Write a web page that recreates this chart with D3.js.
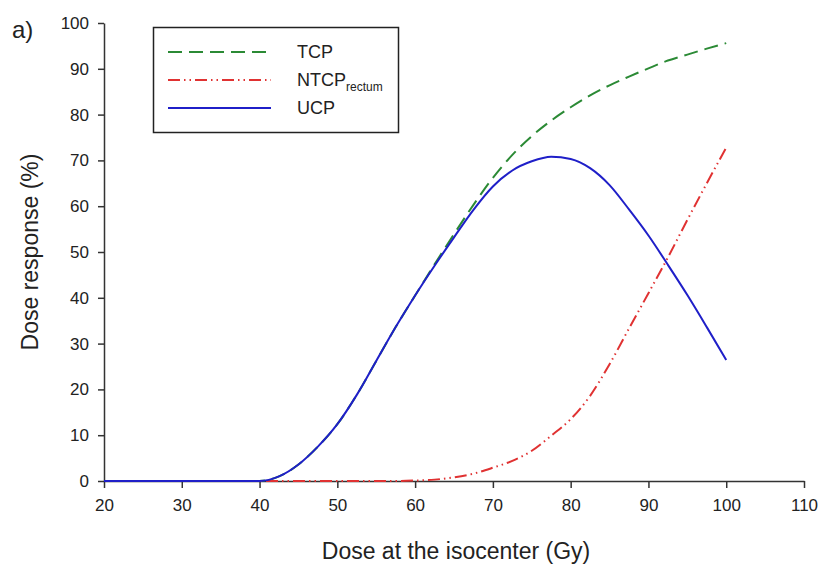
<!DOCTYPE html>
<html>
<head>
<meta charset="utf-8">
<script src="https://cdn.jsdelivr.net/npm/d3@7"></script>
<style>
  body { margin: 0; background: #fff; }
  text { font-family: "Liberation Sans", Arial, sans-serif; fill: #222; }
</style>
</head>
<body>
<svg width="822" height="564"></svg>
<script>
// dose (Gy) and responses (%)
const dose = [20, 25, 30, 35, 40, 42.5, 45, 47.5, 50, 52.5, 55, 57.5, 60, 62.5, 65, 67.5,
              70, 72.5, 75, 77.5, 80, 82.5, 85, 87.5, 90, 92.5, 95, 97.5, 100]
const tcp = [0, 0, 0, 0, 0, 1.0, 3.6, 7.5, 12.4, 18.8, 26.2, 33.6, 40.5, 47.3, 53.9, 60.3,
             66.2, 71.2, 75.3, 78.7, 81.6, 84.2, 86.4, 88.3, 90.1, 91.8, 93.1, 94.4, 95.6]
const ntcp = [0, 0, 0, 0, 0, 0, 0, 0, 0, 0, 0, 0, 0.1, 0.3, 0.8, 1.6,
              2.9, 4.4, 6.6, 9.9, 13.5, 18.6, 25.5, 33.3, 41.0, 48.8, 57.0, 65.0, 72.8]
const ucp = [0, 0, 0, 0, 0, 1.0, 3.6, 7.5, 12.4, 18.8, 26.2, 33.6, 40.5, 47.0, 53.2, 59.2,
             64.3, 67.8, 69.8, 70.8, 70.3, 68.3, 64.6, 59.3, 53.6, 47.2, 40.6, 33.6, 26.4]

const xTicks = [20, 30, 40, 50, 60, 70, 80, 90, 100, 110]
const yTicks = [0, 10, 20, 30, 40, 50, 60, 70, 80, 90, 100]

const svg = d3.select('svg')

const x = d3.scaleLinear().domain([20, 110]).range([104, 804])
const y = d3.scaleLinear().domain([0, 100]).range([481, 23])

// axes
const xAxisGroup = svg.append('g')
  .attr('transform', 'translate(0,481)')
  .call(d3.axisBottom(x).tickValues(xTicks).tickSize(7).tickPadding(11).tickSizeOuter(0))
const yAxisGroup = svg.append('g')
  .attr('transform', 'translate(104,0)')
  .call(d3.axisLeft(y).tickValues(yTicks).tickSize(6).tickPadding(9).tickSizeOuter(0))

svg.selectAll('.domain, .tick line').attr('stroke', '#333').attr('stroke-width', 1.5)
svg.selectAll('.tick text').style('font-size', '17px').attr('fill', '#222')

// curves
const series = [
  { vals: tcp, color: '#2b8a35', dash: '14,7' },
  { vals: ntcp, color: '#e03232', dash: '12,4,1.5,4,1.5,4' },
  { vals: ucp, color: '#1f1fc8', dash: null }
]

series.forEach(s => {
  const line = d3.line()
    .x((d, i) => x(dose[i]))
    .y(d => y(d))
    .curve(d3.curveMonotoneX)
  svg.append('path')
    .attr('fill', 'none')
    .attr('stroke', s.color)
    .attr('stroke-width', 2)
    .attr('stroke-dasharray', s.dash)
    .attr('d', line(s.vals))
})

// legend
svg.append('rect')
  .attr('x', 153.5).attr('y', 27.5)
  .attr('width', 245).attr('height', 105)
  .attr('fill', 'white').attr('stroke', '#222').attr('stroke-width', 1.5)

const legendItems = [
  { label: 'TCP', sub: null, y: 52 },
  { label: 'NTCP', sub: 'rectum', y: 80 },
  { label: 'UCP', sub: null, y: 108 }
]
legendItems.forEach((d, i) => {
  svg.append('line')
    .attr('x1', 168).attr('x2', 271)
    .attr('y1', d.y).attr('y2', d.y)
    .attr('stroke', series[i].color)
    .attr('stroke-width', 2)
    .attr('stroke-dasharray', series[i].dash)
  const t = svg.append('text')
    .attr('x', 297).attr('y', d.y + 6)
    .style('font-size', '18px')
    .text(d.label)
  if (d.sub) {
    t.append('tspan').attr('dy', 5).style('font-size', '12px').text(d.sub)
  }
})

// titles
svg.append('text')
  .attr('x', 456).attr('y', 559)
  .attr('text-anchor', 'middle')
  .style('font-size', '23px')
  .text('Dose at the isocenter (Gy)')

svg.append('text')
  .attr('transform', 'translate(38,252) rotate(-90)')
  .attr('text-anchor', 'middle')
  .style('font-size', '23px')
  .text('Dose response (%)')

svg.append('text')
  .attr('x', 12).attr('y', 38)
  .style('font-size', '24px')
  .text('a)')
</script>
</body>
</html>
